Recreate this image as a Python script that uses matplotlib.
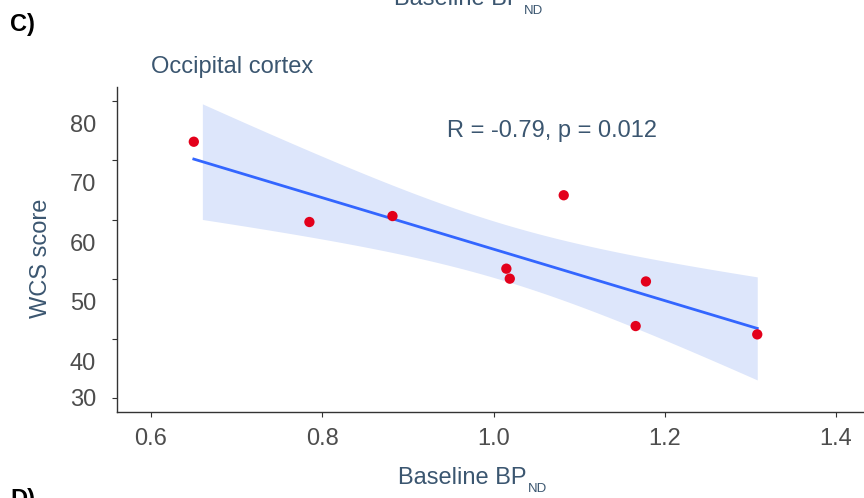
import numpy as np
import matplotlib
matplotlib.use("Agg")
import matplotlib.pyplot as plt

plt.rcParams['font.family'] = ['Liberation Sans', 'DejaVu Sans']

# baseline BPnd vs WCS score, occipital cortex
bp_nd = [0.650, 0.785, 0.882, 1.082, 1.015, 1.019, 1.178, 1.166, 1.308]
wcs = [73.1, 59.6, 60.6, 64.1, 51.75, 50.07, 49.6, 42.1, 40.7]

tick_x = [0.6, 0.8, 1.0, 1.2, 1.4]
tick_x_labels = ['0.6', '0.8', '1.0', '1.2', '1.4']
tick_y = [30, 40, 50, 60, 70, 80]
# the labels sit a little below their tick marks in the original
label_y_pos = [30.001, 36.2, 46.2, 56.2, 66.2, 76.2]
label_y = ['30', '40', '50', '60', '70', '80']

stat_text = 'R = -0.79, p = 0.012'
txt_col = '#3B5670'
tick_col = '#4D4D4D'

x = np.array(bp_nd)
y = np.array(wcs)
n = len(x)
slope, icpt = np.polyfit(x, y, 1)
resid = y - (slope * x + icpt)
s = np.sqrt(np.sum(resid ** 2) / (n - 2))
sxx = np.sum((x - x.mean()) ** 2)
t_crit = 2.3646  # t(0.975, df=7)

xl = np.linspace(x.min(), x.max(), 100)
xb = np.linspace(0.66, x.max(), 100)
yb = slope * xb + icpt
se = s * np.sqrt(1 / n + (xb - x.mean()) ** 2 / sxx)

W, H = 864, 498
fig = plt.figure(figsize=(8.64, 4.98), dpi=100)
ax = fig.add_axes([117 / W, 86 / H, 746 / W, 325.3 / H])
ax.yaxis.remove_overlapping_locs = False

ax.fill_between(xb, yb - t_crit * se, yb + t_crit * se, color='#DDE6FB', lw=0, zorder=1)
ax.plot(xl, slope * xl + icpt, color='#3366FF', lw=2.0, zorder=2)
ax.scatter(x, y, s=55, color='#E3001B', edgecolor='none', zorder=3)

ax.text(0.9457, 74.9, stat_text, ha='left', va='center', fontsize=17, color=txt_col)

ax.set_xlim(0.5603, 1.4315)
ax.set_ylim(27.645, 82.355)
ax.set_xticks(tick_x, tick_x_labels)
ax.set_yticks(tick_y, [''] * len(tick_y))
ax.set_yticks(label_y_pos, label_y, minor=True)
ax.tick_params(axis='x', length=3.5, width=0.8, color='#333333', labelsize=17,
               labelcolor=tick_col, pad=8)
ax.tick_params(axis='y', which='major', length=3.5, width=0.8, color='#333333')
ax.tick_params(axis='y', which='minor', length=0, labelsize=17, labelcolor=tick_col, pad=15)

for side in ['top', 'right']:
    ax.spines[side].set_visible(False)
for side in ['left', 'bottom']:
    ax.spines[side].set_color('#333333')
    ax.spines[side].set_linewidth(1.0)

ax.set_ylabel('WCS score', fontsize=17, color=txt_col)
ax.yaxis.set_label_coords(-(117 - 52) / 746, 1 - (258 - 86.7) / 325.3)


def bp_label(x0, base, nd_base):
    # "Baseline BP" with a small ND subscript, placed in pixels
    fig.text(x0 / W, 1 - base / H, 'Baseline BP', fontsize=17, color=txt_col,
             ha='left', va='baseline')
    fig.text((x0 + 130) / W, 1 - nd_base / H, 'ND', fontsize=9.5, color=txt_col,
             ha='left', va='baseline')


bp_label(398, 484.3, 492)
# x label of the panel above, cut off at the top edge
bp_label(394, 5, 14)

fig.text(151 / W, 1 - 67 / H, 'Occipital cortex', fontsize=17, color=txt_col,
         ha='left', va='center')
fig.text(10 / W, 1 - 25 / H, 'C)', fontsize=17, fontweight='bold', ha='left', va='center')
fig.text(10 / W, 1 - 488 / H, 'D)', fontsize=17, fontweight='bold', ha='left', va='top')

fig.savefig('out.png', dpi=100)
